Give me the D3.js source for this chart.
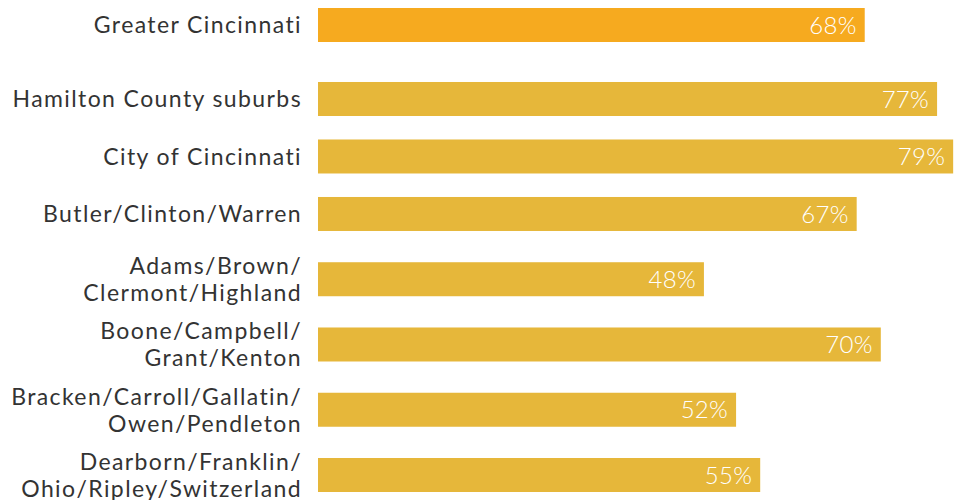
<!DOCTYPE html>
<html>
<head>
<meta charset="utf-8">
<script src="https://cdn.jsdelivr.net/npm/d3@7"></script>
<style>
  body { margin: 0; background: #fff; }
  .label { font-family: "Century Gothic", "Avant Garde", Lato, sans-serif; fill: #333; letter-spacing: 1.4px; }
  .value { font-family: "Century Gothic", "Avant Garde", Lato, sans-serif; fill: #fff; font-weight: 300; letter-spacing: 0.3px; }
</style>
</head>
<body>
<script>
// chart size
var w = 961, h = 500;

// regions (each entry = lines of the label) and share values in percent
var regions = [
    ["Greater Cincinnati"],
    ["Hamilton County suburbs"],
    ["City of Cincinnati"],
    ["Butler/Clinton/Warren"],
    ["Adams/Brown/", "Clermont/Highland"],
    ["Boone/Campbell/", "Grant/Kenton"],
    ["Bracken/Carroll/Gallatin/", "Owen/Pendleton"],
    ["Dearborn/Franklin/", "Ohio/Ripley/Switzerland"]
];
var values = [68, 77, 79, 67, 48, 70, 52, 55];

var svg = d3.select("body")
    .append("svg")
    .attr("width", w)
    .attr("height", h);

// row steps: two-line labels need a bit more room, the first row is set apart
var steps = regions.map(function (d, i) {
    if (i == 0) return 0;
    var s = d.length == 2 ? 1.135 : 1;
    if (i == 1) s = 1.287; // gap after the headline bar
    return s;
});
var offsets = Array.from(d3.cumsum(steps));

var y = d3.scaleLinear()
    .domain([0, d3.max(offsets)])
    .range([25, 475]);

var x = d3.scaleLinear()
    .domain([0, 100])
    .range([318, 1122]);

var barH = 34;

var rows = svg.selectAll(".row")
    .data(values)
    .enter()
    .append("g")
    .attr("class", "row")
    .attr("transform", function (d, i) { return "translate(0," + y(offsets[i]) + ")"; });

// bars
rows.append("rect")
    .attr("x", x(0))
    .attr("y", -barH / 2)
    .attr("width", function (d) { return x(d) - x(0); })
    .attr("height", barH)
    .attr("fill", function (d, i) { return i == 0 ? "#f6aa1f" : "#e6b73a"; });

// value labels inside the bar end
rows.append("text")
    .attr("class", "value")
    .attr("x", function (d) { return x(d) - 8; })
    .attr("y", 0)
    .attr("dy", "0.36em")
    .attr("text-anchor", "end")
    .style("font-size", "24px")
    .text(function (d) { return d + "%"; });

// category labels, right aligned
var labels = rows.append("text")
    .attr("class", "label")
    .attr("text-anchor", "end")
    .style("font-size", "23px");

labels.selectAll("tspan")
    .data(function (d, i) {
        var lines = regions[i];
        return lines.map(function (t, j) { return { t: t, j: j, n: lines.length }; });
    })
    .enter()
    .append("tspan")
    .attr("x", 302)
    .attr("y", function (d) { return (d.j - (d.n - 1) / 2) * 27; })
    .attr("dy", "0.36em")
    .text(function (d) { return d.t; });
</script>
</body>
</html>
